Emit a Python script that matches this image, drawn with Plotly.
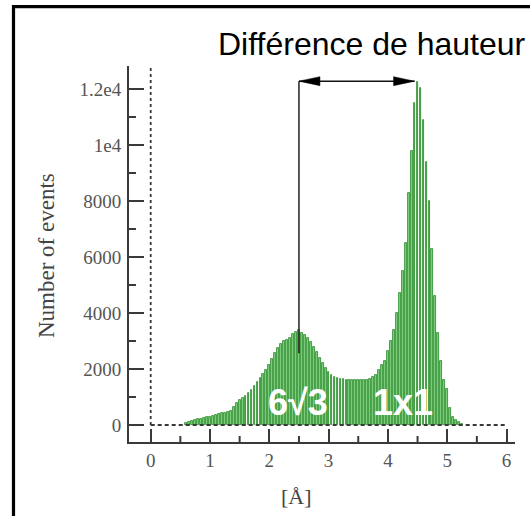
import plotly.graph_objects as go

# ---------------- data ----------------
bin_centers = [
    0.60, 0.65, 0.70, 0.75, 0.80, 0.85, 0.90, 0.95, 1.00, 1.05,
    1.10, 1.15, 1.20, 1.25, 1.30, 1.35, 1.40, 1.45, 1.50, 1.55,
    1.60, 1.65, 1.70, 1.75, 1.80, 1.85, 1.90, 1.95, 2.00, 2.05,
    2.10, 2.15, 2.20, 2.25, 2.30, 2.35, 2.40, 2.45, 2.50, 2.55,
    2.60, 2.65, 2.70, 2.75, 2.80, 2.85, 2.90, 2.95, 3.00, 3.05,
    3.10, 3.15, 3.20, 3.25, 3.30, 3.35, 3.40, 3.45, 3.50, 3.55,
    3.60, 3.65, 3.70, 3.75, 3.80, 3.85, 3.90, 3.95, 4.00, 4.05,
    4.10, 4.15, 4.20, 4.25, 4.30, 4.35, 4.40, 4.45, 4.50, 4.55,
    4.60, 4.65, 4.70, 4.75, 4.80, 4.85, 4.90, 4.95, 5.00, 5.05,
    5.10, 5.15, 5.20, 5.25,
]
event_counts = [
    60, 100, 150, 180, 200, 220, 250, 280, 300, 330,
    360, 390, 420, 440, 460, 500, 650, 780, 880, 960,
    1050, 1150, 1250, 1380, 1520, 1670, 1830, 1980, 2140, 2350,
    2560, 2750, 2900, 3000, 3050, 3120, 3250, 3330, 3380, 3300,
    3220, 3100, 2950, 2780, 2600, 2400, 2200, 2020, 1900, 1800,
    1730, 1680, 1650, 1630, 1620, 1610, 1600, 1600, 1590, 1600,
    1610, 1620, 1650, 1700, 1800, 1980, 2150, 2300, 2650, 3000,
    3400, 4000, 4700, 5500, 6500, 8300, 9800, 11500, 12250, 12050,
    10900, 9400, 8000, 6300, 4600, 3300, 2300, 1600, 1300, 600,
    300, 180, 100, 50,
]
bin_width = 0.05

y_tick_values = [0, 2000, 4000, 6000, 8000, 10000, 12000]
y_tick_labels = ["0", "2000", "4000", "6000", "8000", "1e4", "1.2e4"]
y_minor_ticks = [1000, 3000, 5000, 7000, 9000, 11000]
x_minor_ticks = [0.5, 1.5, 2.5, 3.5, 4.5, 5.5]

x_axis_title = "[Å]"
y_axis_title = "Number of events"
title_text = "Différence de hauteur"
label_left = "6√3"
label_right = "1x1"

# annotation data (Å / events)
arrow_x_start = 2.50
arrow_x_end = 4.45
arrow_y = 12280
marker_line_bottom = 2560
label_left_pos = (2.48, 820)
label_right_pos = (4.26, 820)

# ---------------- layout geometry ----------------
W, H = 530, 516
ML, MR, MT, MB = 129, 15, 66, 74
PW, PH = W - ML - MR, H - MT - MB
X_RANGE = [-0.366, -0.366 + PW / 59.3]
Y_RANGE = [-607, -607 + PH / 0.028]
PX_PER_X = PW / (X_RANGE[1] - X_RANGE[0])
PX_PER_Y = PH / (Y_RANGE[1] - Y_RANGE[0])


def paper_x(px):
    return (px - ML) / PW


def paper_y(py):
    return (H - MB - py) / PH


AXIS_COLOR = "#3a3a3a"
TEXT_GRAY = "#555555"
SERIF = "Liberation Serif, Times New Roman, serif"
SANS = "Liberation Sans, Arial, sans-serif"

fig = go.Figure()
fig.add_trace(go.Bar(
    x=bin_centers,
    y=event_counts,
    width=bin_width * 0.6,
    marker=dict(color="#82d282", line=dict(color="#1f861f", width=0.8)),
    showlegend=False,
    hoverinfo="x+y",
))

shapes = []
# minor ticks (inside)
for v in x_minor_ticks:
    shapes.append(dict(type="line", xref="x", yref="paper", x0=v, x1=v, y0=0, y1=6 / PH,
                       line=dict(color=AXIS_COLOR, width=2)))
for v in y_minor_ticks:
    shapes.append(dict(type="line", xref="paper", yref="y", x0=0, x1=7 / PW, y0=v, y1=v,
                       line=dict(color=AXIS_COLOR, width=2)))
# dashed zero lines
shapes.append(dict(type="line", xref="x", yref="y", x0=0, x1=0, y0=0, y1=Y_RANGE[1] - 60,
                   line=dict(color=AXIS_COLOR, width=1.8, dash="3px,3px"), layer="above"))
shapes.append(dict(type="line", xref="x", yref="y", x0=0, x1=6, y0=0, y1=0,
                   line=dict(color=AXIS_COLOR, width=1.8, dash="4px,3px"), layer="above"))
# marker line and double arrow
shapes.append(dict(type="line", xref="x", yref="y", x0=arrow_x_start, x1=arrow_x_start,
                   y0=marker_line_bottom, y1=arrow_y, line=dict(color="#222222", width=1.5)))
shapes.append(dict(type="line", xref="x", yref="y", x0=arrow_x_start, x1=arrow_x_end,
                   y0=arrow_y, y1=arrow_y, line=dict(color="#111111", width=1.5)))
head_len = 21 / PX_PER_X
head_half = 4.5 / PX_PER_Y
for tip, direction in ((arrow_x_start, 1), (arrow_x_end, -1)):
    base = tip + direction * head_len
    shapes.append(dict(
        type="path", xref="x", yref="y",
        path=f"M {tip},{arrow_y} L {base},{arrow_y + head_half} L {base},{arrow_y - head_half} Z",
        fillcolor="#000000", line=dict(color="#000000", width=0.5)))
# outer frame (top and left)
shapes.append(dict(type="path", xref="paper", yref="paper",
                   path=f"M {paper_x(13.5)},{paper_y(530)} L {paper_x(13.5)},{paper_y(6.7)} L {paper_x(540)},{paper_y(6.7)}",
                   line=dict(color="#000000", width=3.2)))

annotations = [
    dict(text=title_text, xref="paper", yref="paper", x=paper_x(216), y=paper_y(44),
         xanchor="left", yanchor="middle", showarrow=False,
         font=dict(family=SANS, size=32, color="#000000")),
    dict(text=label_left, xref="x", yref="y", x=label_left_pos[0], y=label_left_pos[1],
         showarrow=False, font=dict(family=SANS, size=36, color="#ffffff", weight="bold")),
    dict(text=label_right, xref="x", yref="y", x=label_right_pos[0], y=label_right_pos[1],
         showarrow=False, font=dict(family=SANS, size=36, color="#ffffff", weight="bold")),
    dict(text=y_axis_title, xref="paper", yref="paper", x=paper_x(47), y=paper_y(256),
         textangle=-90, showarrow=False, xanchor="center", yanchor="middle",
         font=dict(family=SERIF, size=23, color="#444444")),
    dict(text=x_axis_title, xref="paper", yref="paper", x=paper_x(296), y=paper_y(497),
         showarrow=False, xanchor="center", yanchor="middle",
         font=dict(family=SERIF, size=22, color="#444444")),
]

fig.update_layout(
    width=W, height=H,
    margin=dict(l=ML, r=MR, t=MT, b=MB, pad=0),
    paper_bgcolor="#ffffff", plot_bgcolor="#ffffff",
    bargap=0,
    shapes=shapes,
    annotations=annotations,
    xaxis=dict(
        range=X_RANGE, showgrid=False, zeroline=False,
        showline=True, linecolor=AXIS_COLOR, linewidth=2,
        ticks="inside", ticklen=13, tickwidth=2, tickcolor=AXIS_COLOR,
        tickmode="linear", tick0=0, dtick=1,
        tickfont=dict(family=SERIF, size=19, color=TEXT_GRAY),
    ),
    yaxis=dict(
        range=Y_RANGE, showgrid=False, zeroline=False,
        showline=True, linecolor=AXIS_COLOR, linewidth=2,
        ticks="inside", ticklen=15, tickwidth=2, tickcolor=AXIS_COLOR,
        tickmode="array", tickvals=y_tick_values, ticktext=y_tick_labels,
        tickfont=dict(family=SERIF, size=19, color=TEXT_GRAY),
        ticklabelstandoff=2,
    ),
)

fig.write_html("out.html")
